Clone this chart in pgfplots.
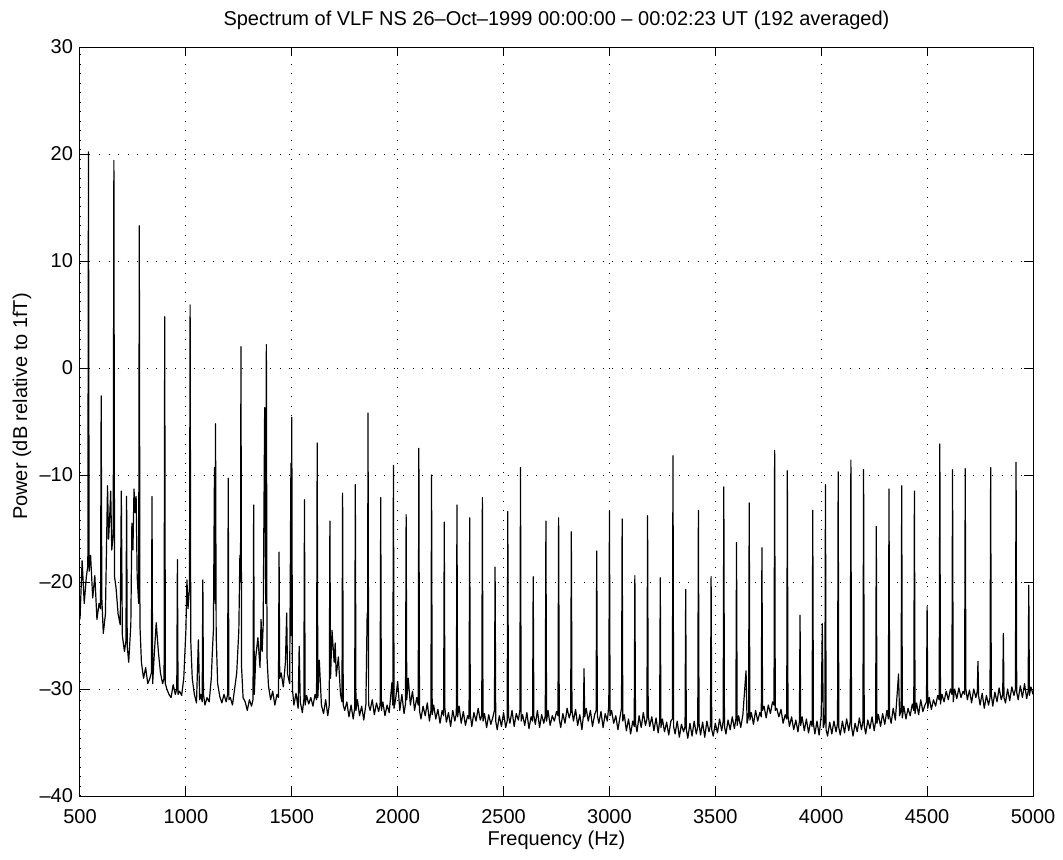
\documentclass[border=0pt]{standalone}
\usepackage{pgfplots}
\pgfplotsset{compat=1.18}
\usepackage{fontspec}
\setmainfont{Liberation Sans}
\begin{document}
\begin{tikzpicture}
\useasboundingbox (-40pt,-31.5pt) rectangle (491.5pt,398pt);
\begin{axis}[
  at={(0,0)}, anchor=south west,
  scale only axis, width=476.5pt, height=374.5pt,
  xmin=500, xmax=5000, ymin=-40, ymax=30,
  xtick={500,1000,1500,2000,2500,3000,3500,4000,4500,5000},
  xticklabels={500,1000,1500,2000,2500,3000,3500,4000,4500,5000},
  ytick={-40,-30,-20,-10,0,10,20,30},
  yticklabels={--40,--30,--20,--10,0,10,20,30},
  tick align=inside, major tick length=4.5pt,
  tick style={black, line width=0.5pt},
  axis line style={black, line width=0.5pt},
  grid=major,
  major grid style={black, line width=0.45pt, dash pattern=on 0.45pt off 4.3pt},
  ticklabel style={font=\fontsize{10}{12}\selectfont},
  xticklabel style={yshift=-3pt},
  title={Spectrum of VLF NS 26--Oct--1999 00:00:00 -- 00:02:23 UT (192 averaged)},
  title style={at={(axis description cs:0.5,1.020)}, anchor=center, yshift=0pt, font=\fontsize{10}{12}\selectfont},
  xlabel={Frequency (Hz)},
  xlabel style={at={(axis description cs:0.5,-0.0587)}, anchor=center, yshift=0pt, font=\fontsize{10}{12}\selectfont},
  ylabel={Power (dB relative to 1fT)},
  ylabel style={at={(axis description cs:-0.061,0.52)}, anchor=center, font=\fontsize{10}{12}\selectfont},
  /pgf/number format/assume math mode=true,
]
\addplot[black, line width=0.6pt, line join=round] coordinates {
(500,-23.5) (510,-18.0) (520,-22.0) (530,-19.5)
(537,-18.5) (540,20.2) (543,-19.0) (550,-17.5) (560,-21.5) (570,-19.4) (580,-23.5) (590,-22.0)
(597,-22.5) (600,-2.6) (603,-21.5) (610,-24.8) (620,-23.0) (630,-11.0) (635,-16.0) (640,-14.0) (645,-11.5) (650,-17.0)
(657,-15.5) (660,19.4) (663,-19.5) (670,-20.5) (680,-23.0) (690,-24.0) (695,-11.5) (700,-25.0) (710,-26.5)
(717,-25.5) (720,-12.0) (723,-26.0) (730,-27.5) (740,-24.0) (745,-14.5) (750,-17.0) (755,-11.3) (760,-13.5) (765,-12.0) (770,-19.5)
(777,-22.0) (780,13.3) (783,-24.0) (790,-27.5) (800,-29.0) (810,-28.0) (820,-29.5) (830,-29.0)
(837,-28.5) (840,-12.0) (843,-29.5) (850,-27.0) (860,-23.8) (870,-26.5) (880,-28.5) (890,-29.5)
(897,-29.0) (900,4.8) (903,-29.5) (910,-30.0) (920,-30.5) (930,-30.8) (940,-29.6) (950,-30.5)
(957,-30.0) (960,-17.9) (963,-30.5) (970,-30.2) (980,-30.6) (990,-29.0) (1000,-24.5) (1005,-19.8) (1010,-22.5)
(1017,-20.5) (1020,5.9) (1023,-25.5) (1030,-29.0) (1040,-30.5) (1050,-31.3) (1059,-25.4) (1065,-31.0) (1070,-30.5)
(1077,-31.2) (1080,-19.8) (1083,-30.5) (1090,-31.5) (1100,-30.8) (1110,-31.2) (1120,-29.0) (1125,-26.5) (1130,-24.5) (1135,-9.3)
(1138,-22.0) (1140,-5.2) (1143,-25.0) (1150,-29.5) (1160,-30.7) (1170,-31.3) (1180,-30.5) (1190,-31.2)
(1197,-30.5) (1200,-10.3) (1203,-31.0) (1210,-30.8) (1220,-31.5) (1230,-30.0) (1240,-28.5) (1250,-24.5) (1255,-17.5)
(1258,-20.0) (1260,2.0) (1263,-28.0) (1270,-30.8) (1280,-31.2) (1290,-32.0) (1300,-31.0) (1310,-31.6)
(1317,-31.0) (1320,-12.8) (1323,-30.5) (1330,-27.0) (1340,-25.2) (1350,-28.0) (1355,-23.5) (1360,-26.5) (1365,-24.0) (1372,-3.7)
(1377,-22.0) (1380,2.2) (1383,-27.0) (1390,-29.7) (1400,-31.0) (1410,-30.2) (1420,-31.5) (1430,-30.5)
(1437,-30.8) (1440,-17.2) (1443,-29.0) (1450,-28.5) (1460,-29.8) (1470,-27.5) (1476,-22.9) (1480,-28.6) (1490,-29.5) (1496,-8.9)
(1498,-25.0) (1500,-4.6) (1503,-30.0) (1510,-31.5) (1520,-30.4) (1530,-31.8) (1535,-26.0) (1540,-31.2) (1550,-32.2)
(1557,-31.0) (1560,-12.3) (1563,-31.5) (1570,-30.6) (1580,-31.4) (1590,-30.8) (1600,-31.6) (1610,-30.5)
(1617,-31.0) (1620,-7.0) (1623,-30.8) (1630,-27.3) (1640,-31.5) (1650,-32.3) (1660,-31.0) (1670,-32.5)
(1677,-31.5) (1680,-14.3) (1683,-29.0) (1690,-24.5) (1700,-27.5) (1705,-25.7) (1710,-28.8) (1720,-27.0) (1730,-30.5)
(1737,-31.2) (1740,-11.7) (1743,-31.5) (1750,-32.0) (1760,-31.2) (1770,-32.6) (1780,-31.5) (1790,-32.8)
(1797,-31.8) (1800,-10.9) (1803,-32.0) (1810,-31.0) (1820,-32.5) (1830,-31.6) (1840,-32.9) (1850,-31.4) (1856,-22.9)
(1858,-25.0) (1860,-4.2) (1863,-31.5) (1870,-32.0) (1880,-31.0) (1890,-32.4) (1900,-31.3) (1910,-32.1)
(1917,-31.5) (1920,-12.1) (1923,-32.0) (1930,-31.2) (1940,-32.5) (1950,-31.5) (1960,-32.2) (1973,-29.4)
(1977,-31.5) (1980,-9.1) (1983,-31.8) (1990,-31.0) (2000,-29.3) (2010,-32.0) (2020,-30.5) (2030,-32.3)
(2037,-31.4) (2040,-13.7) (2043,-31.0) (2050,-29.0) (2060,-31.5) (2070,-30.2) (2080,-32.0) (2090,-30.8)
(2097,-31.5) (2100,-7.5) (2103,-32.0) (2110,-32.8) (2120,-31.6) (2130,-32.5) (2140,-31.3) (2150,-33.0)
(2157,-32.0) (2160,-10.0) (2163,-32.4) (2170,-31.5) (2180,-32.8) (2190,-31.9) (2200,-33.2) (2210,-32.0)
(2217,-32.5) (2220,-14.4) (2223,-31.8) (2230,-33.1) (2240,-32.2) (2250,-33.5) (2260,-32.0) (2270,-33.0)
(2277,-32.3) (2280,-12.8) (2283,-32.6) (2290,-31.6) (2300,-33.2) (2310,-32.1) (2320,-33.4) (2330,-32.5)
(2337,-32.8) (2340,-14.0) (2343,-32.4) (2350,-33.5) (2360,-32.2) (2370,-33.0) (2380,-31.8) (2390,-32.9)
(2397,-32.5) (2400,-12.1) (2403,-33.0) (2410,-32.3) (2420,-33.6) (2430,-32.4) (2440,-33.3) (2450,-32.6)
(2457,-32.0) (2460,-18.6) (2463,-33.0) (2470,-33.8) (2480,-32.5) (2490,-33.5) (2500,-32.2) (2510,-33.6)
(2517,-33.0) (2520,-13.4) (2523,-32.5) (2530,-33.2) (2540,-32.0) (2550,-33.5) (2560,-32.3) (2570,-32.9)
(2577,-32.0) (2580,-9.3) (2583,-33.0) (2590,-32.4) (2600,-33.4) (2610,-32.2) (2620,-33.7) (2630,-32.6)
(2637,-33.0) (2640,-19.5) (2643,-32.5) (2650,-33.3) (2660,-32.0) (2670,-33.6) (2680,-32.4) (2690,-33.2)
(2697,-32.5) (2700,-14.3) (2703,-33.0) (2710,-32.0) (2720,-33.4) (2730,-32.5) (2740,-33.0) (2750,-32.1)
(2757,-32.5) (2760,-14.0) (2763,-32.8) (2770,-33.6) (2780,-32.3) (2790,-33.2) (2800,-31.8) (2810,-32.7)
(2817,-32.2) (2820,-15.3) (2823,-32.0) (2830,-33.0) (2840,-31.9) (2850,-33.4) (2860,-32.4) (2870,-33.8)
(2877,-32.5) (2880,-28.1) (2883,-32.6) (2890,-31.8) (2900,-33.0) (2910,-32.0) (2920,-33.5) (2930,-32.4)
(2937,-32.0) (2940,-17.1) (2943,-32.5) (2950,-33.2) (2960,-32.1) (2970,-33.6) (2980,-32.3) (2990,-33.0)
(2997,-31.5) (3000,-13.4) (3003,-32.5) (3010,-32.0) (3020,-33.2) (3030,-32.5) (3040,-33.8) (3050,-32.6)
(3057,-31.8) (3060,-14.1) (3063,-33.0) (3070,-32.4) (3080,-33.9) (3090,-32.8) (3100,-34.2) (3110,-33.0)
(3117,-33.5) (3120,-19.4) (3123,-33.2) (3130,-34.0) (3140,-32.5) (3150,-33.6) (3160,-32.2) (3170,-33.4)
(3177,-32.8) (3180,-13.8) (3183,-32.4) (3190,-33.5) (3200,-32.6) (3210,-33.9) (3220,-32.7) (3230,-34.1)
(3237,-33.0) (3240,-19.6) (3243,-33.6) (3250,-32.8) (3260,-34.0) (3270,-33.1) (3280,-34.3) (3290,-33.0)
(3297,-32.8) (3300,-8.2) (3303,-33.5) (3310,-34.2) (3320,-33.0) (3330,-34.5) (3340,-33.3) (3350,-34.0)
(3357,-33.5) (3360,-20.7) (3363,-33.8) (3370,-34.6) (3380,-33.2) (3390,-34.4) (3400,-33.0) (3410,-34.2)
(3417,-33.5) (3420,-13.3) (3423,-33.2) (3430,-34.3) (3440,-33.1) (3450,-34.5) (3460,-33.0) (3470,-34.0)
(3477,-33.4) (3480,-19.5) (3483,-33.8) (3490,-34.4) (3500,-33.2) (3510,-34.1) (3520,-32.8) (3530,-33.9)
(3537,-33.0) (3540,-11.1) (3543,-33.5) (3550,-34.2) (3560,-32.9) (3570,-33.8) (3580,-32.6) (3590,-33.7)
(3597,-32.8) (3600,-16.3) (3603,-33.4) (3610,-32.5) (3620,-33.6) (3630,-32.4) (3645,-28.3) (3650,-33.2)
(3657,-32.5) (3660,-12.6) (3663,-32.9) (3670,-32.2) (3680,-33.3) (3690,-32.0) (3700,-33.0) (3710,-32.2)
(3717,-32.6) (3720,-16.8) (3723,-32.0) (3730,-31.6) (3740,-32.7) (3750,-31.5) (3760,-32.3) (3770,-31.2)
(3777,-31.5) (3780,-7.7) (3783,-32.0) (3790,-31.8) (3800,-32.6) (3810,-31.9) (3820,-33.2) (3830,-32.4)
(3837,-32.8) (3840,-9.6) (3843,-32.5) (3850,-33.5) (3860,-32.6) (3870,-33.8) (3880,-32.9) (3890,-34.0)
(3897,-33.0) (3900,-23.1) (3903,-33.4) (3910,-32.6) (3920,-33.9) (3930,-32.8) (3940,-34.1) (3950,-33.0)
(3957,-33.5) (3960,-13.3) (3963,-33.2) (3970,-34.2) (3980,-33.0) (3990,-34.3) (4000,-32.5) (4005,-23.9) (4010,-33.6)
(4017,-33.0) (4020,-10.9) (4023,-33.8) (4030,-34.4) (4040,-33.1) (4050,-34.2) (4060,-33.0) (4070,-34.0)
(4077,-33.2) (4080,-9.7) (4083,-33.6) (4090,-34.3) (4100,-33.0) (4110,-34.1) (4120,-32.8) (4130,-33.9)
(4137,-33.0) (4140,-8.6) (4143,-33.5) (4150,-34.4) (4160,-33.2) (4170,-34.0) (4180,-32.7) (4190,-33.8)
(4197,-33.0) (4200,-9.5) (4203,-33.4) (4210,-34.2) (4220,-32.9) (4230,-33.7) (4240,-32.6) (4250,-33.9)
(4257,-33.0) (4260,-14.8) (4263,-33.2) (4270,-32.4) (4280,-33.5) (4290,-32.3) (4300,-33.3) (4310,-32.0)
(4317,-32.8) (4320,-11.3) (4323,-32.5) (4330,-33.2) (4340,-31.8) (4350,-32.9) (4365,-28.6) (4370,-32.5)
(4377,-32.0) (4380,-11.0) (4383,-32.7) (4390,-31.6) (4400,-32.8) (4410,-31.8) (4420,-32.5) (4430,-31.4)
(4437,-32.0) (4440,-11.5) (4443,-32.3) (4450,-31.3) (4460,-32.4) (4470,-31.0) (4480,-32.1) (4490,-31.5)
(4497,-31.2) (4500,-22.3) (4503,-31.8) (4510,-30.8) (4520,-31.9) (4530,-31.0) (4540,-31.6) (4550,-30.6)
(4557,-31.0) (4560,-7.1) (4563,-31.4) (4570,-30.5) (4580,-31.2) (4590,-30.2) (4600,-31.0) (4610,-30.0)
(4617,-30.5) (4620,-9.5) (4623,-31.2) (4630,-30.0) (4640,-30.9) (4650,-29.9) (4660,-30.8) (4670,-30.2)
(4677,-30.5) (4680,-9.4) (4683,-30.0) (4690,-31.0) (4700,-30.1) (4710,-31.3) (4720,-30.0) (4730,-30.8)
(4737,-30.2) (4740,-27.4) (4743,-30.6) (4750,-31.5) (4760,-30.4) (4770,-31.8) (4780,-30.6) (4790,-31.5)
(4797,-30.8) (4800,-9.3) (4803,-30.5) (4810,-31.6) (4820,-30.3) (4830,-31.2) (4840,-29.9) (4850,-31.0)
(4857,-30.5) (4860,-24.8) (4863,-30.8) (4870,-31.3) (4880,-30.0) (4890,-31.1) (4900,-29.8) (4910,-30.6)
(4917,-30.0) (4920,-8.8) (4923,-30.3) (4930,-31.0) (4940,-29.7) (4950,-30.8) (4960,-29.5) (4970,-30.9)
(4977,-30.2) (4980,-20.3) (4983,-30.6) (4990,-29.8) (5000,-30.5)
};
\end{axis}
\end{tikzpicture}
\end{document}
